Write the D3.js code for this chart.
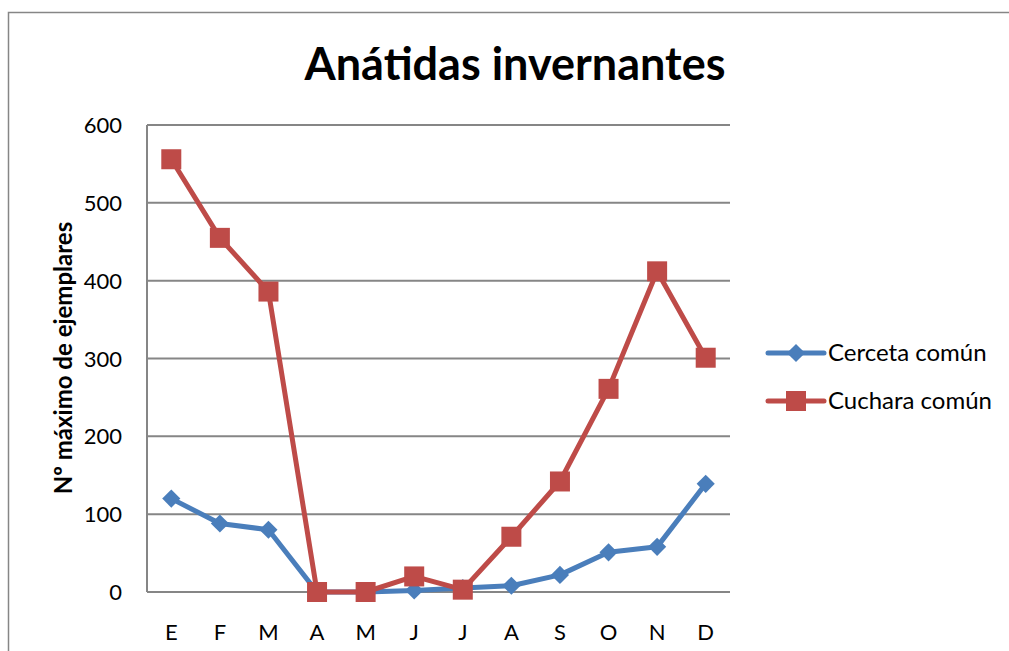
<!DOCTYPE html>
<html>
<head>
<meta charset="utf-8">
<script src="https://cdn.jsdelivr.net/npm/d3@7"></script>
<style>
  body { margin: 0; background: #fff; }
  svg { display: block; font-family: Lato, "Open Sans", sans-serif; }
</style>
</head>
<body>
<div id="chart"></div>
<script>
// meses (eje x)
var months = ["E", "F", "M", "A", "M", "J", "J", "A", "S", "O", "N", "D"];
var yTicks = [0, 100, 200, 300, 400, 500, 600];

var seriesNames = ["Cerceta común", "Cuchara común"];
var cerceta = [120, 88, 80, 0, 0, 2, 5, 8, 22, 51, 58, 139];
var cuchara = [556, 455, 386, 0, 0, 20, 3, 71, 142, 261, 412, 301];

var colors = ["#4a7ebb", "#be4b48"];

var width = 1009, height = 651;
var margin = { left: 147, right: 279, top: 125, bottom: 59 };

var svg = d3.select("#chart").append("svg")
  .attr("width", width)
  .attr("height", height);

// marco del grafico
svg.append("rect")
  .attr("x", 8.5).attr("y", 12.5)
  .attr("width", 1100).attr("height", 800)
  .attr("fill", "none")
  .attr("stroke", "#868686")
  .attr("stroke-width", 1.5);

var x = d3.scaleBand()
  .domain(d3.range(months.length))
  .range([margin.left, width - margin.right]);

var y = d3.scaleLinear()
  .domain([0, 600])
  .range([height - margin.bottom, margin.top]);

// lineas de division
svg.append("g")
  .selectAll("line")
  .data(yTicks)
  .enter().append("line")
  .attr("x1", margin.left)
  .attr("x2", width - margin.right)
  .attr("y1", function (d) { return y(d); })
  .attr("y2", function (d) { return y(d); })
  .attr("stroke", "#868686")
  .attr("stroke-width", 2);

// eje vertical
svg.append("line")
  .attr("x1", margin.left).attr("x2", margin.left)
  .attr("y1", y(600)).attr("y2", y(0))
  .attr("stroke", "#868686")
  .attr("stroke-width", 2);

// etiquetas eje y
svg.append("g")
  .selectAll("text")
  .data(yTicks)
  .enter().append("text")
  .attr("x", 122)
  .attr("y", function (d) { return y(d) + 8; })
  .attr("text-anchor", "end")
  .style("font-size", "22px")
  .style("fill", "#000")
  .text(function (d) { return d; });

// etiquetas eje x
svg.append("g")
  .selectAll("text")
  .data(months)
  .enter().append("text")
  .attr("x", function (d, i) { return x(i) + x.bandwidth() / 2; })
  .attr("y", 640)
  .attr("text-anchor", "middle")
  .style("font-size", "22px")
  .style("fill", "#000")
  .text(function (d) { return d; });

// titulo
svg.append("text")
  .attr("x", 515)
  .attr("y", 80)
  .attr("text-anchor", "middle")
  .style("font-size", "45px")
  .style("font-weight", "bold")
  .text("Anátidas invernantes");

// titulo eje y
svg.append("text")
  .attr("transform", "translate(72,358) rotate(-90)")
  .attr("text-anchor", "middle")
  .style("font-size", "24px")
  .style("font-weight", "bold")
  .text("Nº máximo de ejemplares");

var line = d3.line()
  .x(function (d, i) { return x(i) + x.bandwidth() / 2; })
  .y(function (d) { return y(d); });

var diamond = d3.symbol().type(d3.symbolDiamond2).size(210);

function drawMarker(g, kind, cx, cy, color) {
  if (kind === 0) {
    g.append("path")
      .attr("d", diamond())
      .attr("transform", "translate(" + cx + "," + cy + ")")
      .attr("fill", color);
  } else {
    g.append("rect")
      .attr("x", cx - 10).attr("y", cy - 10)
      .attr("width", 20).attr("height", 20)
      .attr("fill", color);
  }
}

[cerceta, cuchara].forEach(function (vals, k) {
  var g = svg.append("g");
  g.append("path")
    .datum(vals)
    .attr("d", line)
    .attr("fill", "none")
    .attr("stroke", colors[k])
    .attr("stroke-width", 5)
    .attr("stroke-linejoin", "round");
  vals.forEach(function (v, i) {
    drawMarker(g, k, x(i) + x.bandwidth() / 2, y(v), colors[k]);
  });
});

// leyenda
var legendY = [353, 401];
seriesNames.forEach(function (name, k) {
  var g = svg.append("g");
  g.append("line")
    .attr("x1", 768).attr("x2", 824)
    .attr("y1", legendY[k]).attr("y2", legendY[k])
    .attr("stroke", colors[k])
    .attr("stroke-width", 5)
    .attr("stroke-linecap", "round");
  drawMarker(g, k, 796, legendY[k], colors[k]);
  g.append("text")
    .attr("x", 828)
    .attr("y", legendY[k] + 8)
    .style("font-size", "24px")
    .text(name);
});
</script>
</body>
</html>
